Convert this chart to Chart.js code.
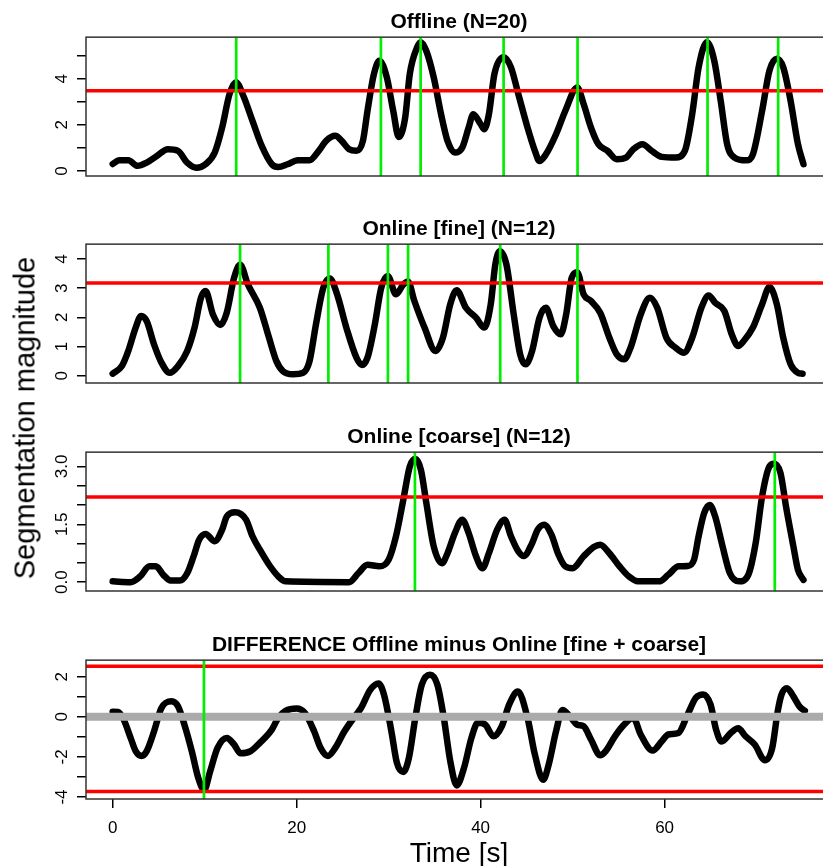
<!DOCTYPE html>
<html>
<head>
<meta charset="utf-8">
<title>Segmentation magnitude</title>
<script src="https://cdn.jsdelivr.net/npm/chart.js@4.4.1/dist/chart.umd.min.js"></script>
<style>
  html, body { margin: 0; padding: 0; background: #fff; overflow: hidden; }
  #wrap { position: relative; width: 823px; height: 866px; overflow: hidden; }
  #wrap canvas { position: absolute; left: 0; }
  #ylab {
    position: absolute; left: 25px; top: 418px;
    transform: translate(-50%, -50%) rotate(-90deg);
    font: 29px "Liberation Sans", Arial, sans-serif; line-height: 29px;
    white-space: nowrap; color: #000;
  }
</style>
</head>
<body>
<div id="wrap">
  <canvas id="offline" width="840" height="186" style="top:10px"></canvas>
  <canvas id="fine" width="840" height="186" style="top:217px"></canvas>
  <canvas id="coarse" width="840" height="186" style="top:425px"></canvas>
  <canvas id="diff" width="840" height="233" style="top:633px"></canvas>
  <div id="ylab">Segmentation magnitude</div>
</div>
<script>
'use strict';

// ---- data ----
const X_MIN = -2.9;
const X_MAX = 78.2;

const timeTicks = [0, 20, 40, 60];
const timeTickLabels = ['0', '20', '40', '60'];

// Offline
const offlineTime = [0, 0.7, 1.7, 2.7, 3.7, 4.8, 6.0, 7.1, 8.1, 9.1, 10.1, 11.1, 11.9, 12.7, 13.4, 14.2, 15.2, 16.2, 17.3, 18.0, 19.0, 20.1, 21.4, 22.4, 23.2, 24.2, 24.9, 25.7, 26.5, 27.2, 27.7, 28.4, 29.0, 29.8, 30.5, 31.1, 31.8, 32.3, 33.1, 33.5, 34.1, 34.9, 35.7, 36.4, 37.2, 38.0, 38.7, 39.2, 40.0, 40.4, 40.9, 41.5, 42.5, 43.3, 44.1, 45.1, 45.9, 46.4, 47.1, 48.2, 49.2, 50.5, 51.2, 52.0, 52.8, 53.8, 54.8, 55.8, 56.6, 57.6, 58.6, 59.7, 61.2, 62.2, 63.0, 63.7, 64.6, 65.4, 66.1, 66.8, 67.6, 68.9, 69.6, 70.6, 71.4, 72.2, 72.9, 73.7, 74.5, 75.1];
const offlineMag = [0.3, 0.46, 0.46, 0.22, 0.36, 0.65, 0.94, 0.87, 0.36, 0.14, 0.29, 0.8, 1.88, 3.33, 3.85, 3.26, 2.17, 1.09, 0.29, 0.17, 0.29, 0.46, 0.46, 0.87, 1.3, 1.52, 1.3, 0.94, 0.87, 1.3, 2.6, 4.2, 4.78, 4.06, 2.6, 1.47, 2.32, 4.2, 5.36, 5.58, 5.2, 4.06, 2.46, 1.3, 0.8, 1.01, 1.88, 2.46, 2.03, 1.81, 2.46, 4.2, 4.93, 4.49, 3.33, 1.88, 0.87, 0.43, 0.72, 1.59, 2.6, 3.62, 2.9, 1.88, 1.16, 0.87, 0.51, 0.58, 0.94, 1.16, 0.87, 0.61, 0.58, 0.87, 2.46, 4.49, 5.58, 4.78, 3.04, 1.16, 0.58, 0.46, 0.72, 2.6, 4.35, 4.86, 4.49, 3.04, 1.16, 0.29];
const offlineEvents = [13.43, 29.16, 33.48, 42.5, 50.54, 64.67, 72.35];
const offlineThresholds = [3.48];
const offlineYTicks = [0, 1, 2, 3, 4, 5];
const offlineYLabels = ['0', '', '2', '', '4', ''];

// Online [fine]
const fineTime = [0, 1.0, 1.7, 2.5, 3.1, 3.7, 4.5, 5.3, 6.2, 7.1, 8.1, 8.9, 9.6, 10.1, 10.9, 11.7, 12.4, 13.2, 13.85, 14.7, 16.0, 17.0, 17.8, 18.5, 19.6, 20.7, 21.4, 22.1, 22.9, 23.6, 24.4, 25.4, 26.5, 27.1, 27.7, 28.5, 29.2, 29.9, 30.8, 31.6, 32.1, 32.8, 33.9, 35.1, 35.9, 36.7, 37.4, 38.4, 39.5, 40.4, 41.1, 41.6, 42.1, 42.8, 43.6, 44.3, 44.9, 45.6, 46.4, 47.1, 47.9, 48.7, 49.3, 49.9, 50.5, 51.2, 52.0, 53.0, 54.0, 54.8, 55.6, 56.3, 57.4, 58.4, 59.2, 60.2, 61.2, 62.1, 63.0, 64.0, 64.8, 65.5, 66.5, 67.3, 68.0, 68.6, 69.6, 70.6, 71.4, 72.2, 72.9, 73.7, 74.5, 75.0];
const fineMag = [0.07, 0.33, 0.85, 1.65, 2.05, 1.87, 1.07, 0.45, 0.1, 0.33, 0.85, 1.65, 2.67, 2.9, 2.1, 1.74, 2.16, 3.36, 3.8, 3.13, 2.33, 1.3, 0.5, 0.16, 0.05, 0.1, 0.5, 1.76, 3.02, 3.33, 2.79, 1.65, 0.62, 0.37, 0.62, 1.76, 3.02, 3.42, 2.79, 3.13, 3.23, 2.56, 1.65, 0.85, 1.3, 2.45, 2.93, 2.33, 1.99, 1.65, 2.45, 3.82, 4.27, 3.82, 2.1, 0.73, 0.39, 0.85, 1.99, 2.33, 1.7, 1.42, 2.1, 3.36, 3.55, 2.79, 2.56, 2.16, 1.3, 0.73, 0.56, 0.96, 2.1, 2.67, 2.33, 1.3, 0.96, 0.79, 1.3, 2.33, 2.75, 2.5, 2.22, 1.42, 1.02, 1.19, 1.65, 2.45, 3.04, 2.45, 1.3, 0.39, 0.1, 0.07];
const fineEvents = [13.85, 23.45, 29.92, 32.12, 42.13, 50.53];
const fineThresholds = [3.18];
const fineYTicks = [0, 1, 2, 3, 4];
const fineYLabels = ['0', '1', '2', '3', '4'];

// Online [coarse]
const coarseTime = [0, 1.95, 3.0, 4.0, 4.7, 5.5, 6.3, 7.3, 8.1, 8.8, 9.4, 10.1, 11.1, 11.9, 12.4, 13.3, 14.5, 15.2, 16.0, 17.0, 18.0, 18.8, 25.7, 26.7, 27.7, 29.0, 30.0, 30.8, 31.6, 32.3, 32.9, 33.5, 34.1, 34.9, 35.8, 36.4, 37.2, 38.0, 38.7, 39.5, 40.2, 40.9, 41.8, 42.6, 43.3, 44.1, 44.7, 45.6, 46.2, 46.9, 47.7, 48.4, 49.2, 50.0, 51.2, 52.3, 53.0, 54.0, 55.1, 56.1, 57.1, 59.4, 60.4, 61.5, 62.5, 63.2, 63.7, 64.3, 64.9, 65.5, 66.3, 67.1, 68.1, 69.1, 69.9, 70.6, 71.4, 71.9, 72.6, 73.2, 74.0, 74.5, 75.1];
const coarseMag = [0.02, 0.0, 0.15, 0.41, 0.41, 0.19, 0.04, 0.04, 0.23, 0.67, 1.1, 1.25, 1.06, 1.36, 1.7, 1.81, 1.62, 1.19, 0.84, 0.45, 0.15, 0.02, 0.0, 0.23, 0.45, 0.41, 0.58, 1.19, 2.14, 3.0, 3.19, 2.92, 2.05, 0.93, 0.49, 0.75, 1.27, 1.62, 1.27, 0.67, 0.36, 0.75, 1.36, 1.62, 1.19, 0.8, 0.68, 1.01, 1.36, 1.49, 1.23, 0.75, 0.41, 0.36, 0.67, 0.91, 0.97, 0.75, 0.41, 0.15, 0.02, 0.02, 0.19, 0.41, 0.42, 0.58, 1.19, 1.79, 2.0, 1.7, 0.93, 0.23, 0.02, 0.19, 1.01, 2.22, 3.0, 3.07, 2.83, 1.96, 0.93, 0.32, 0.06];
const coarseEvents = [32.86, 71.98];
const coarseThresholds = [2.21];
const coarseYTicks = [0, 0.5, 1, 1.5, 2, 2.5, 3];
const coarseYLabels = ['0.0', '', '', '1.5', '', '', '3.0'];

// DIFFERENCE Offline minus Online
const diffTime = [0, 0.6, 1.2, 1.95, 2.5, 3.15, 3.7, 4.5, 5.3, 6.4, 7.1, 7.8, 8.6, 9.3, 9.95, 10.6, 11.4, 12.4, 13.2, 13.9, 15.0, 16.0, 17.3, 18.0, 18.8, 20.0, 20.9, 21.9, 22.6, 23.4, 24.2, 25.2, 26.2, 27.0, 28.0, 28.9, 29.5, 30.3, 30.9, 31.6, 32.2, 32.9, 33.6, 34.5, 35.3, 36.0, 36.7, 37.4, 38.2, 39.0, 39.7, 40.5, 41.4, 42.3, 43.1, 44.05, 45.1, 45.9, 46.8, 47.4, 48.2, 48.9, 49.7, 50.5, 51.2, 52.0, 53.0, 53.6, 54.6, 55.6, 56.6, 57.4, 58.7, 59.7, 60.4, 61.5, 62.5, 63.4, 64.2, 65.0, 65.6, 66.2, 67.2, 68.0, 68.8, 69.8, 70.9, 71.7, 72.3, 72.7, 73.3, 74.0, 74.7, 75.25];
const diffMag = [0.25, 0.24, -0.14, -1.05, -1.71, -1.95, -1.71, -0.72, 0.44, 0.78, 0.53, -0.39, -1.71, -3.04, -3.65, -2.71, -1.55, -1.05, -1.38, -1.82, -1.71, -1.3, -0.64, -0.05, 0.3, 0.42, 0.19, -0.72, -1.55, -1.95, -1.55, -0.72, -0.05, 0.44, 1.35, 1.67, 1.1, -0.72, -2.3, -2.75, -2.05, -0.05, 1.6, 2.1, 1.6, -0.05, -2.21, -3.42, -2.54, -1.05, -0.3, -0.39, -0.97, -0.47, 0.61, 1.27, -0.05, -1.88, -3.14, -2.38, -0.72, 0.34, 0.03, -0.39, -0.47, -1.13, -1.92, -1.71, -0.97, -0.39, -0.05, -0.88, -1.68, -1.22, -0.88, -0.8, 0.11, 0.95, 1.12, 0.61, -0.64, -1.23, -0.8, -0.57, -0.97, -1.38, -2.16, -1.55, 0.28, 1.1, 1.43, 1.02, 0.5, 0.3];
const diffEvents = [9.92];
const diffThresholds = [2.53, -3.72];
const diffBaselines = [0];
const diffYTicks = [-4, -3, -2, -1, 0, 1, 2];
const diffYLabels = ['-4', '', '-2', '', '0', '', '2'];

// ---- drawing helpers ----
const FONT = '"Liberation Sans", Arial, Helvetica, sans-serif';

/**
 * Frame, rotated y tick labels and (optionally) x tick labels + x title, R style.
 */
const rAxesPlugin = {
  id: 'rAxes',
  afterDraw(chart, args, opts) {
    const { ctx, chartArea: a } = chart;
    const yScale = chart.scales.y;
    const xScale = chart.scales.x;
    ctx.save();

    ctx.strokeStyle = '#333';
    ctx.lineWidth = 1.5;
    ctx.strokeRect(a.left, a.top, a.right - a.left, a.bottom - a.top);

    ctx.fillStyle = '#000';
    ctx.font = '17px ' + FONT;
    ctx.textAlign = 'center';
    ctx.textBaseline = 'alphabetic';

    opts.yTicks.forEach((v, i) => {
      const label = opts.yLabels[i];
      if (!label) return;
      ctx.save();
      ctx.translate(a.left - 19, yScale.getPixelForValue(v));
      ctx.rotate(-Math.PI / 2);
      ctx.fillText(label, 0, 0);
      ctx.restore();
    });

    if (opts.xLabels) {
      opts.xTicks.forEach((v, i) => {
        ctx.fillText(opts.xLabels[i], xScale.getPixelForValue(v), a.bottom + 34);
      });
      ctx.font = '28px ' + FONT;
      ctx.fillText(opts.xTitle, (a.left + a.right) / 2, a.bottom + 63);
    }
    ctx.restore();
  }
};

function vline(t, yMin, yMax) {
  return {
    data: [{ x: t, y: yMin }, { x: t, y: yMax }],
    borderColor: '#00ee00',
    borderWidth: 2.7,
    pointRadius: 0,
    clip: 0
  };
}

function hline(v, color, width) {
  return {
    data: [{ x: X_MIN, y: v }, { x: X_MAX, y: v }],
    borderColor: color,
    borderWidth: width,
    pointRadius: 0,
    clip: 0
  };
}

/**
 * Builds one panel. Dataset index 0 is painted last (on top), so the curve goes at the end.
 */
function buildPanel(canvasId, p) {
  const datasets = [];
  p.events.forEach(t => datasets.push(vline(t, p.yMin, p.yMax)));
  p.thresholds.forEach(v => datasets.push(hline(v, '#ff0000', 3.5)));
  (p.baselines || []).forEach(v => datasets.push(hline(v, '#aaaaaa', 8)));
  datasets.push({
    data: p.time.map((t, i) => ({ x: t, y: p.mag[i] })),
    borderColor: '#000',
    borderWidth: 6.5,
    borderCapStyle: 'round',
    borderJoinStyle: 'round',
    cubicInterpolationMode: 'monotone',
    pointRadius: 0,
    clip: 0
  });

  const showX = !!p.xLabels;

  return new Chart(document.getElementById(canvasId), {
    type: 'line',
    data: { datasets: datasets },
    plugins: [rAxesPlugin],
    options: {
      responsive: false,
      animation: false,
      events: [],
      layout: { padding: { left: 0, right: 8, top: 0, bottom: showX ? 0 : 20 } },
      plugins: {
        legend: { display: false },
        tooltip: { enabled: false },
        title: {
          display: true,
          text: p.title,
          fullSize: false,
          color: '#000',
          font: { family: FONT, size: 21, weight: 'bold', lineHeight: 1.15 },
          padding: { top: 0, bottom: 3 }
        },
        rAxes: {
          yTicks: p.yTicks,
          yLabels: p.yLabels,
          xTicks: timeTicks,
          xLabels: p.xLabels,
          xTitle: 'Time [s]'
        }
      },
      scales: {
        x: {
          type: 'linear',
          min: X_MIN,
          max: X_MAX,
          display: showX,
          afterBuildTicks: s => { s.ticks = timeTicks.map(v => ({ value: v })); },
          afterFit: s => { s.height = showX ? 67 : 0; },
          border: { display: false },
          grid: { drawOnChartArea: false, drawTicks: true, tickLength: 9, color: '#000', lineWidth: 1.5 },
          ticks: { display: false, autoSkip: false }
        },
        y: {
          type: 'linear',
          min: p.yMin,
          max: p.yMax,
          afterBuildTicks: s => { s.ticks = p.yTicks.map(v => ({ value: v })); },
          afterFit: s => { s.width = 86; },
          border: { display: false },
          grid: { drawOnChartArea: false, drawTicks: true, tickLength: 9, color: '#000', lineWidth: 1.5 },
          ticks: { display: false, autoSkip: false }
        }
      }
    }
  });
}

buildPanel('offline', {
  title: 'Offline (N=20)',
  time: offlineTime, mag: offlineMag,
  events: offlineEvents, thresholds: offlineThresholds,
  yMin: -0.22, yMax: 5.8, yTicks: offlineYTicks, yLabels: offlineYLabels
});

buildPanel('fine', {
  title: 'Online [fine] (N=12)',
  time: fineTime, mag: fineMag,
  events: fineEvents, thresholds: fineThresholds,
  yMin: -0.25, yMax: 4.51, yTicks: fineYTicks, yLabels: fineYLabels
});

buildPanel('coarse', {
  title: 'Online [coarse] (N=12)',
  time: coarseTime, mag: coarseMag,
  events: coarseEvents, thresholds: coarseThresholds,
  yMin: -0.23, yMax: 3.37, yTicks: coarseYTicks, yLabels: coarseYLabels
});

buildPanel('diff', {
  title: 'DIFFERENCE Offline minus Online [fine + coarse]',
  time: diffTime, mag: diffMag,
  events: diffEvents, thresholds: diffThresholds, baselines: diffBaselines,
  yMin: -4.1, yMax: 2.83, yTicks: diffYTicks, yLabels: diffYLabels,
  xLabels: timeTickLabels
});
</script>
</body>
</html>
